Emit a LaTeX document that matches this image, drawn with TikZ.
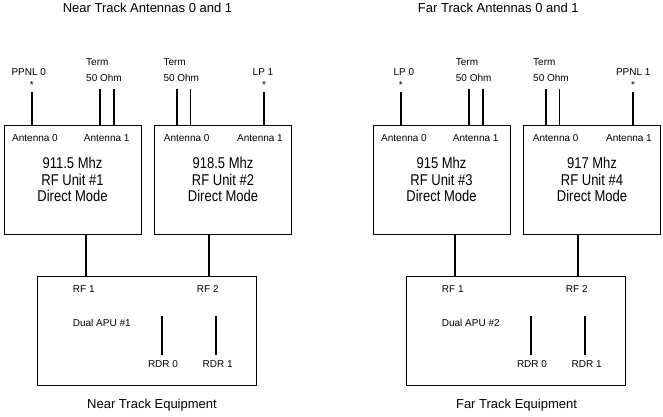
\documentclass[tikz,border=0pt]{standalone}
\usepackage{fontspec}
\setmainfont{Liberation Sans}
\usepackage{graphicx}
\usetikzlibrary{positioning,calc}
\newcommand{\unitlines}[3]{\scalebox{1}[1.2]{#1}\\\scalebox{1}[1.2]{#2}\\\scalebox{1}[1.2]{#3}}

\begin{document}
\begin{tikzpicture}[
  x=1pt,y=-1pt,
  font=\fontsize{10}{12}\selectfont,
  unit/.style={draw,line width=0.8pt,minimum width=137pt,minimum height=109pt,align=center,inner sep=0pt,
    font=\fontsize{13}{16.7}\selectfont},
  apu/.style={draw,line width=0.8pt,minimum width=219pt,minimum height=109pt,inner sep=0pt},
  ttl/.style={font=\fontsize{13}{15}\selectfont},
  lbl/.style={inner sep=0pt},
  wire/.style={line width=1.6pt},
]
\useasboundingbox (0,0) rectangle (663,417);

% near track
\node[ttl] (ttlN) at (147.5,8) {Near Track Antennas 0 and 1};
\node[unit] (rf1) at (72.5,179.5) {\unitlines{911.5 Mhz}{RF Unit \#1}{Direct Mode}};
\node[unit] (rf2) at (223,179.5) {\unitlines{918.5 Mhz}{RF Unit \#2}{Direct Mode}};
\node (a10) at (35,138.3) {Antenna 0};
\node (a11) at (106.7,138.3) {Antenna 1};
\node (a20) at (186.7,138.3) {Antenna 0};
\node (a21) at (260,138.3) {Antenna 1};

\node (ppnl0) at (28.8,71.7) {PPNL 0};
\node (ast10) at (31.7,85) {*};
\node[lbl,anchor=west] (term1) at (86,61.7) {Term};
\node[lbl,anchor=west] (ohm1) at (86,78.3) {50 Ohm};
\node[lbl,anchor=west] (term2) at (163.3,61.7) {Term};
\node[lbl,anchor=west] (ohm2) at (163.3,78.3) {50 Ohm};
\node (lp1) at (263,71.7) {LP 1};
\node (ast21) at (264,85) {*};

\coordinate (t1a) at (100,89.3);
\coordinate (t1b) at (113.7,89.3);
\coordinate (t2a) at (176.7,89.3);
\coordinate (t2b) at (190.3,89.3);
\draw[wire] (ast10.south) -- (ast10.south |- rf1.north);
\draw[wire] (t1a) -- (t1a |- rf1.north);
\draw[wire] (t1b) -- (t1b |- rf1.north);
\draw[wire] (t2a) -- (t2a |- rf2.north);
\draw[wire] (t2b) -- (t2b |- rf2.north);
\draw[wire] (ast21.south) -- (ast21.south |- rf2.north);

\node[apu] (apu1) at (147.2,330.5) {};
\node[lbl,anchor=west] (rfin1) at (72.7,289) {RF 1};
\node[lbl,anchor=west] (rfin2) at (196.7,289) {RF 2};
\node[lbl,anchor=west] (dual1) at (72.7,323.3) {Dual APU \#1};
\node (rdr10) at (163,364) {RDR 0};
\node (rdr11) at (217.7,364) {RDR 1};
\coordinate (r10) at (161.7,316);
\coordinate (r11) at (215.7,316);
\draw[wire,shorten >=2pt] (r10) -- (r10 |- rdr10.north);
\draw[wire,shorten >=2pt] (r11) -- (r11 |- rdr11.north);

\draw[wire] ([xshift=13.5pt]rf1.south) -- ([xshift=13.5pt]rf1.south |- apu1.north);
\draw[wire] ([xshift=-14pt]rf2.south) -- ([xshift=-14pt]rf2.south |- apu1.north);
\node[ttl] (eqN) at (152,405) {Near Track Equipment};

% far track
\node[ttl] (ttlF) at (498.3,8) {Far Track Antennas 0 and 1};
\node[unit] (rf3) at (441.5,179.5) {\unitlines{915 Mhz}{RF Unit \#3}{Direct Mode}};
\node[unit] (rf4) at (592,179.5) {\unitlines{917 Mhz}{RF Unit \#4}{Direct Mode}};
\node (a30) at (404,138.3) {Antenna 0};
\node (a31) at (475.7,138.3) {Antenna 1};
\node (a40) at (555.7,138.3) {Antenna 0};
\node (a41) at (629,138.3) {Antenna 1};

\node (lp0) at (403.8,71.7) {LP 0};
\node (ast30) at (400.7,85) {*};
\node[lbl,anchor=west] (term3) at (455.7,61.7) {Term};
\node[lbl,anchor=west] (ohm3) at (455.7,78.3) {50 Ohm};
\node[lbl,anchor=west] (term4) at (533,61.7) {Term};
\node[lbl,anchor=west] (ohm4) at (533,78.3) {50 Ohm};
\node (ppnl1) at (633.3,71.7) {PPNL 1};
\node (ast41) at (633,85) {*};

\coordinate (t3a) at (469,89.3);
\coordinate (t3b) at (482.7,89.3);
\coordinate (t4a) at (545.7,89.3);
\coordinate (t4b) at (559.3,89.3);
\draw[wire] (ast30.south) -- (ast30.south |- rf3.north);
\draw[wire] (t3a) -- (t3a |- rf3.north);
\draw[wire] (t3b) -- (t3b |- rf3.north);
\draw[wire] (t4a) -- (t4a |- rf4.north);
\draw[wire] (t4b) -- (t4b |- rf4.north);
\draw[wire] (ast41.south) -- (ast41.south |- rf4.north);

\node[apu] (apu2) at (516.2,330.5) {};
\node[lbl,anchor=west] (rfin3) at (441.7,289) {RF 1};
\node[lbl,anchor=west] (rfin4) at (565.7,289) {RF 2};
\node[lbl,anchor=west] (dual2) at (441.7,323.3) {Dual APU \#2};
\node (rdr20) at (532,364) {RDR 0};
\node (rdr21) at (586.7,364) {RDR 1};
\coordinate (r20) at (530.7,316);
\coordinate (r21) at (584.7,316);
\draw[wire,shorten >=2pt] (r20) -- (r20 |- rdr20.north);
\draw[wire,shorten >=2pt] (r21) -- (r21 |- rdr21.north);

\draw[wire] ([xshift=13.5pt]rf3.south) -- ([xshift=13.5pt]rf3.south |- apu2.north);
\draw[wire] ([xshift=-14pt]rf4.south) -- ([xshift=-14pt]rf4.south |- apu2.north);
\node[ttl] (eqF) at (516.5,405) {Far Track Equipment};
\end{tikzpicture}
\end{document}
